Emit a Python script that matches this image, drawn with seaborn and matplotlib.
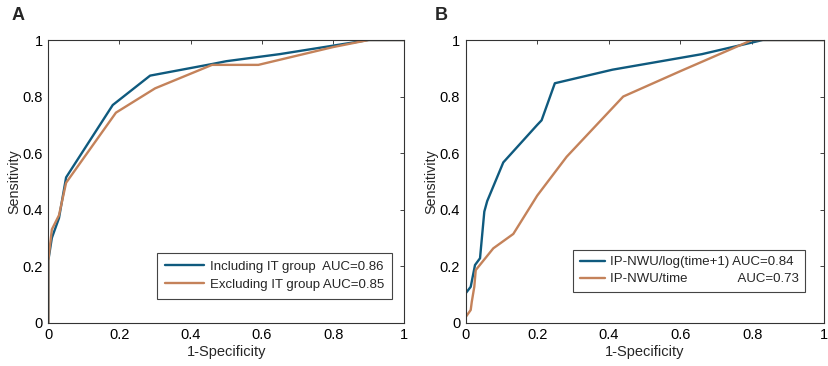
import numpy as np
import pandas as pd
import seaborn as sns
import matplotlib.pyplot as plt

# Panel A data
a_inc_x = [0, 0, 0.01, 0.03, 0.05, 0.181, 0.286, 0.46, 0.5, 0.65, 0.8, 0.9, 1.0]
a_inc_y = [0, 0.22, 0.30, 0.37, 0.514, 0.77, 0.874, 0.915, 0.925, 0.95, 0.98, 1.0, 1.0]
a_exc_x = [0, 0, 0.01, 0.03, 0.05, 0.19, 0.30, 0.46, 0.59, 0.8, 0.9, 1.0]
a_exc_y = [0, 0.22, 0.33, 0.38, 0.495, 0.743, 0.829, 0.912, 0.912, 0.975, 1.0, 1.0]

# Panel B data
b_log_x = [0, 0, 0.014, 0.026, 0.04, 0.052, 0.06, 0.105, 0.2, 0.212, 0.249, 0.41, 0.66, 0.83, 1.0]
b_log_y = [0, 0.104, 0.127, 0.204, 0.228, 0.393, 0.43, 0.567, 0.70, 0.716, 0.847, 0.895, 0.95, 1.0, 1.0]
b_time_x = [0, 0.014, 0.017, 0.024, 0.028, 0.077, 0.133, 0.2, 0.282, 0.44, 0.6, 0.8, 1.0]
b_time_y = [0.02, 0.045, 0.074, 0.127, 0.186, 0.263, 0.314, 0.45, 0.587, 0.80, 0.89, 1.0, 1.0]

labels_a = ["Including IT group  AUC=0.86", "Excluding IT group AUC=0.85"]
labels_b = ["IP-NWU/log(time+1) AUC=0.84", "IP-NWU/time              AUC=0.73"]
panel_titles = ["A", "B"]
ticks = [0, 0.2, 0.4, 0.6, 0.8, 1]
tick_labels = ["0", "0.2", "0.4", "0.6", "0.8", "1"]

blue = "#0f5a7e"
orange = "#c4825a"

sns.set_theme(style="white")
plt.rcParams['font.family'] = ['Liberation Sans', 'DejaVu Sans']

fig = plt.figure(figsize=(8.29, 3.66), dpi=100)
W, H = 829, 366
axA = fig.add_axes([48.3 / W, 1 - 322.7 / H, 356 / W, 282.7 / H])
axB = fig.add_axes([465.7 / W, 1 - 322.7 / H, 358 / W, 282.7 / H])

def make_df(xs1, ys1, xs2, ys2, l1, l2):
    return pd.DataFrame({
        "x": list(xs1) + list(xs2),
        "y": list(ys1) + list(ys2),
        "s": [l1] * len(xs1) + [l2] * len(xs2),
    })

dfA = make_df(a_inc_x, a_inc_y, a_exc_x, a_exc_y, *labels_a)
dfB = make_df(b_log_x, b_log_y, b_time_x, b_time_y, *labels_b)

panels = [(axA, dfA, labels_a, "A", 12 / W, (0.965, 0.084), 3.0, 0.6, 0.45),
          (axB, dfB, labels_b, "B", 435 / W, (0.949, 0.109), 1.9, 0.5, 0.35)]
for ax, df, labs, title, tx, anchor, hl, bp, ls in panels:
    sns.lineplot(data=df, x="x", y="y", hue="s", hue_order=labs,
                 palette=[blue, orange], estimator=None, sort=False,
                 linewidth=1.7, ax=ax)
    ax.set_xlim(0, 1)
    ax.set_ylim(0, 1)
    ax.set_xticks(ticks)
    ax.set_xticklabels(tick_labels)
    ax.set_yticks(ticks)
    ax.set_yticklabels(tick_labels)
    ax.tick_params(direction="in", length=3, top=True, right=True,
                   labelsize=10.5, colors="#222222", pad=4, width=0.6)
    ax.tick_params(axis="both", labelcolor="black")
    ax.set_xlabel("1-Specificity", fontsize=10.5, labelpad=2)
    ax.set_ylabel("Sensitivity", fontsize=10.3, labelpad=1)
    for sp in ax.spines.values():
        sp.set_color("#333333")
        sp.set_linewidth(0.8)
    leg = ax.legend(loc="lower right", fontsize=9.5, frameon=True, fancybox=False,
                    edgecolor="#444444", framealpha=1, handlelength=hl,
                    borderpad=bp, labelspacing=ls, handletextpad=0.4,
                    borderaxespad=0, bbox_to_anchor=anchor)
    leg.get_frame().set_linewidth(0.8)
    fig.text(tx, 1 - 16 / H, title, fontsize=13, fontweight="bold", va="center", ha="left")

fig.savefig("out.png", dpi=100)
